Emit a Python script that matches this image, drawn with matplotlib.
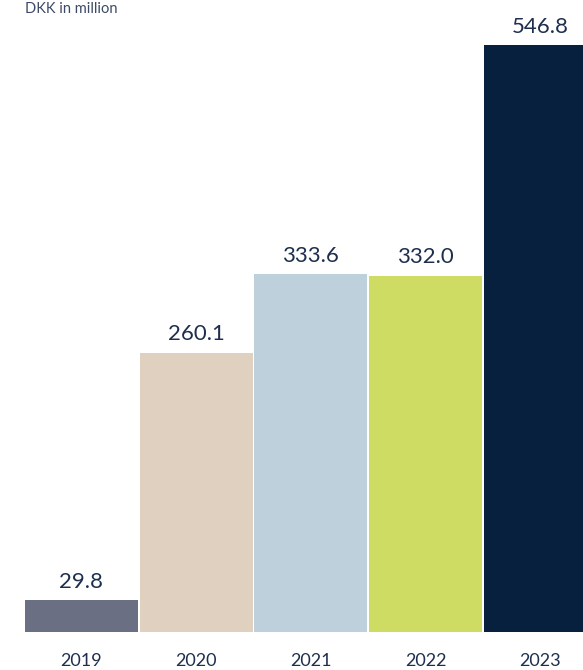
import matplotlib
matplotlib.use("Agg")
import matplotlib.pyplot as plt
import numpy as np

years = ["2019", "2020", "2021", "2022", "2023"]
values = [29.8, 260.1, 333.6, 332.0, 546.8]
colors = ["#6b6f84", "#e0d0bf", "#bdd0dc", "#cedc64", "#06203d"]

text_color = "#1e2f4e"
plt.rcParams['font.family'] = ['Lato', 'DejaVu Sans']

fig = plt.figure(figsize=(5.83, 6.70), dpi=100)
ax = fig.add_axes([25 / 583, 38 / 670, 558 / 583, 632 / 670])

x = np.arange(len(years))
bars = ax.bar(x, values, width=0.985, color=colors, linewidth=0)

for xi, v in zip(x, values):
    ax.annotate(f"{v:.1f}", (xi, v), xytext=(0, 6), textcoords="offset points",
                ha="center", va="bottom", fontsize=16, color=text_color)

for xi, yr in zip(x, years):
    ax.annotate(yr, (xi, 0), xytext=(0, -21), textcoords="offset points",
                ha="center", va="center", fontsize=13, color=text_color,
                annotation_clip=False)

ax.set_xlim(-0.4925, 4.372)
ax.set_ylim(0, 588.7)
ax.axis("off")

fig.text(25 / 583, 1.0 - 2 / 670, "DKK in million", ha="left", va="top",
         fontsize=10.5, color="#3d4a66")

fig.savefig("out.png", dpi=100)
